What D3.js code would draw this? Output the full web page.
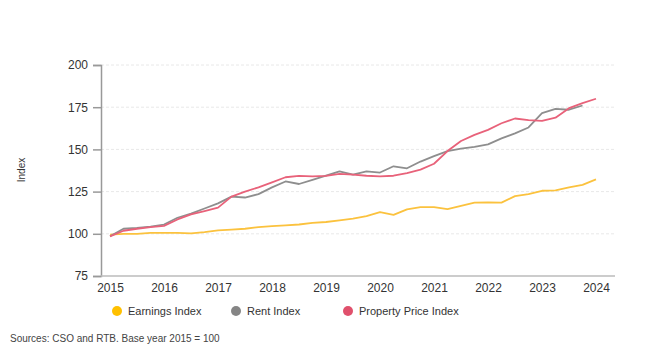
<!DOCTYPE html>
<html>
<head>
<meta charset="utf-8">
<script src="https://cdn.jsdelivr.net/npm/d3@7"></script>
<style>
  body { margin: 0; background: #fff; }
  svg { font-family: "Liberation Sans", Arial, sans-serif; }
</style>
</head>
<body>
<script>
// quarterly data, 2015 Q1 .. 2024 Q1
const earnings = [99.5, 100, 100, 100.5, 100.5, 100.5, 100.3, 101, 102, 102.5, 103, 104, 104.5, 105, 105.5, 106.5,
  107, 108, 109, 110.5, 112.8, 111.2, 114.5, 115.8, 115.8, 114.6, 116.5, 118.5, 118.6, 118.5, 122.3, 123.5,
  125.5, 125.7, 127.5, 129, 132.2];
const rent = [98.5, 103, 103.5, 104.3, 105.5, 109.5, 112, 115, 118, 122, 121.5, 123.5, 127.5, 131, 129.5, 132,
  134.5, 137, 135, 137, 136.3, 140, 138.8, 142.8, 146, 149, 150.5, 151.5, 153, 156.5, 159.5, 163,
  171.5, 174, 173.5, 176];
const propertyPrice = [98.5, 101.8, 103, 104, 104.7, 108.5, 111.5, 113.5, 115.5, 122, 125, 127.5, 130.5, 133.5, 134.3, 134,
  134.3, 135.5, 135, 134.4, 134, 134.4, 136, 138, 141.5, 149, 155, 158.6, 161.6, 165.5, 168.3, 167.3,
  166.9, 168.8, 174.4, 177.4, 180];
const yearTicks = [2015, 2016, 2017, 2018, 2019, 2020, 2021, 2022, 2023, 2024];
const yTicks = [75, 100, 125, 150, 175, 200];

const series = [
  {name: "Earnings Index", values: earnings, color: "#FBC23E", dot: "#FFC000"},
  {name: "Rent Index", values: rent, color: "#8E8E8E", dot: "#858585"},
  {name: "Property Price Index", values: propertyPrice, color: "#E8627A", dot: "#E0506C"}
];

const width = 650, height = 363;
const svg = d3.select("body").append("svg")
    .attr("width", width)
    .attr("height", height);

const x = d3.scaleLinear().domain([2015, 2024]).range([110, 596]);
const y = d3.scaleLinear().domain([75, 200]).range([276, 65]);

// gridlines
svg.append("g")
    .selectAll("line")
    .data(yTicks.slice(1))
    .enter()
    .append("line")
    .attr("x1", 101)
    .attr("x2", 615)
    .attr("y1", function (d) { return y(d); })
    .attr("y2", function (d) { return y(d); })
    .style("stroke", "#e8e8e8")
    .style("stroke-width", 1)
    .style("stroke-dasharray", "3,2");

// y axis
const yAxis = svg.append("g")
    .attr("transform", "translate(101,0)")
    .call(d3.axisLeft(y).tickValues(yTicks).tickSize(8).tickPadding(5));
yAxis.select(".domain").attr("stroke", "#999").attr("stroke-width", 1.5);
yAxis.selectAll(".tick line").attr("stroke", "#999").attr("stroke-width", 1.5);
yAxis.selectAll("text").attr("font-size", "12px").attr("fill", "#333");

// x axis
const xAxis = svg.append("g")
    .attr("transform", "translate(0,276)")
    .call(d3.axisBottom(x).tickValues(yearTicks).tickFormat(d3.format("d")).tickSize(0).tickPadding(7));
xAxis.select(".domain").attr("d", "M101,0H615").attr("stroke", "#bbb").attr("stroke-width", 1.5);
xAxis.selectAll("text").attr("font-size", "12px").attr("fill", "#333");

svg.append("text")
    .attr("transform", "translate(25,170) rotate(-90)")
    .attr("text-anchor", "middle")
    .attr("font-size", "10px")
    .attr("fill", "#333")
    .text("Index");

// lines
const line = d3.line()
    .x(function (d, i) { return x(2015 + i / 4); })
    .y(function (d) { return y(d); });

svg.append("g")
    .selectAll("path")
    .data(series)
    .enter()
    .append("path")
    .attr("d", function (d) { return line(d.values); })
    .attr("fill", "none")
    .attr("stroke", function (d) { return d.color; })
    .attr("stroke-width", 1.8)
    .attr("stroke-linejoin", "round");

// legend
const legendX = [117, 236, 348];
const legend = svg.append("g")
    .selectAll("g")
    .data(series)
    .enter()
    .append("g")
    .attr("transform", function (d, i) { return "translate(" + legendX[i] + ",311)"; });
legend.append("circle")
    .attr("r", 5)
    .attr("fill", function (d) { return d.dot; });
legend.append("text")
    .attr("x", 11)
    .attr("y", 4)
    .attr("font-size", "11px")
    .attr("fill", "#333")
    .text(function (d) { return d.name; });

svg.append("text")
    .attr("x", 10)
    .attr("y", 342)
    .attr("font-size", "10px")
    .attr("fill", "#444")
    .text("Sources: CSO and RTB. Base year 2015 = 100");
</script>
</body>
</html>
